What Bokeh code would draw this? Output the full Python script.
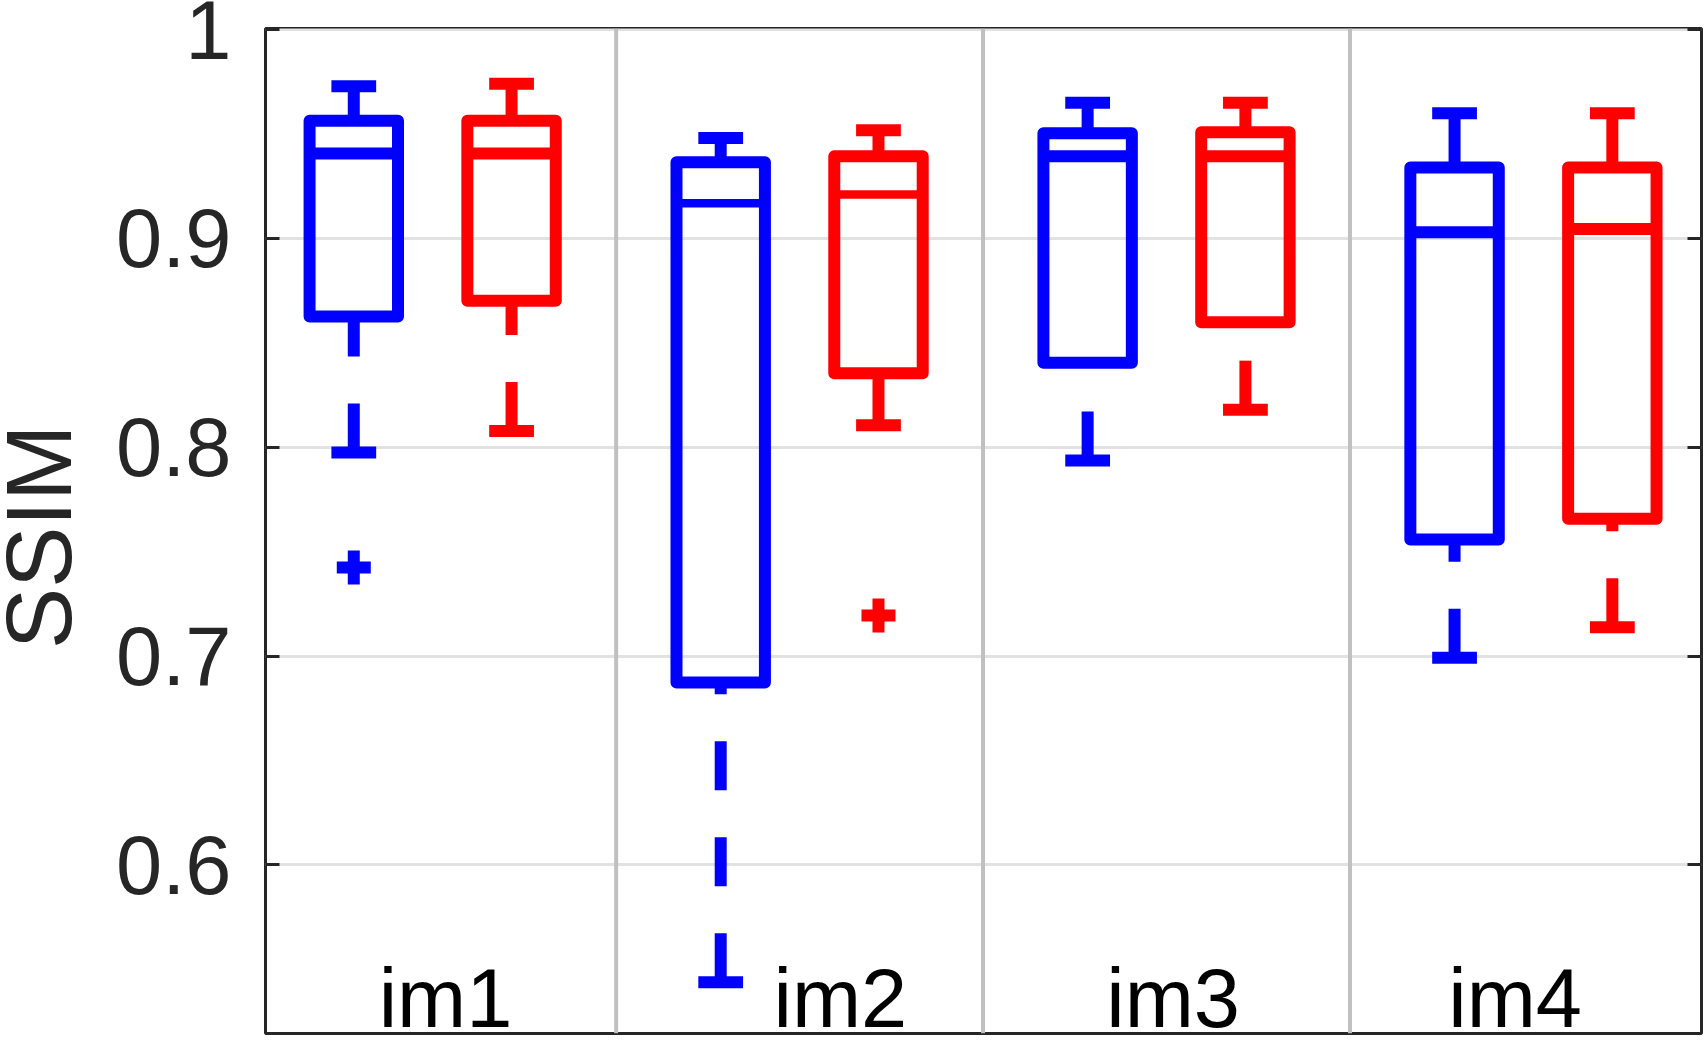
import math
import numpy as np
from bokeh.plotting import figure
from bokeh.layouts import row
from bokeh.models import FixedTicker, LinearAxis, Span, Range1d, ColumnDataSource
from bokeh.core.properties import value
from bokeh.embed import file_html
from bokeh.resources import INLINE

# ---------------- data ----------------
groups = ["im1", "im2", "im3", "im4"]

blue_upper = [0.9728, 0.9481, 0.9649, 0.9599]
blue_q3 = [0.9563, 0.9365, 0.9503, 0.9339]
blue_median = [0.9407, 0.9168, 0.9393, 0.9029]
blue_q1 = [0.8626, 0.6874, 0.8404, 0.7558]
blue_lower = [0.7975, 0.5438, 0.7936, 0.6992]
blue_outlier_group = ["im1"]
blue_outlier_value = [0.7424]

red_upper = [0.9740, 0.9518, 0.9649, 0.9599]
red_q3 = [0.9563, 0.9393, 0.9508, 0.9339]
red_median = [0.9407, 0.9210, 0.9393, 0.9045]
red_q1 = [0.8701, 0.8354, 0.8599, 0.7658]
red_lower = [0.8078, 0.8105, 0.8180, 0.7138]
red_outlier_group = ["im2"]
red_outlier_value = [0.7194]

y_ticks = [0.6, 0.7, 0.8, 0.9, 1.0]
y_tick_labels = ["0.6", "0.7", "0.8", "0.9", "1"]
y_label = "SSIM"

# ---------------- layout / style ----------------
TOTAL_W, TOTAL_H = 1708, 1040
LABEL_PANEL_W = 110
XLIM = (0.5444, 4.458)
YLIM = (0.5193, 1.0005)
OFFSET = 0.215        # half distance between the two boxes of a group
BOX_W = 0.241
CAP_W = 0.122
LW = 12
MEDIAN_LW = [12, 8.5, 12, 12]
LABEL_DX = [0.035, 0.111, 0.018, -0.050]
LABEL_Y = 0.5362
YLABEL_X, YLABEL_Y = 38.6, 514
DARK = "#262626"
FONT = "Liberation Sans"

# ---- narrow panel holding the y-axis title ----
lp = figure(width=LABEL_PANEL_W, height=TOTAL_H,
            x_range=Range1d(0, LABEL_PANEL_W), y_range=Range1d(0, TOTAL_H),
            output_backend="svg", toolbar_location=None,
            x_axis_location=None, y_axis_location=None,
            min_border=0, min_border_left=0, min_border_right=0,
            min_border_top=0, min_border_bottom=0,
            background_fill_color="white", border_fill_color="white")
lp.outline_line_color = None
lp.grid.visible = False
lp.text(x=[YLABEL_X], y=[YLABEL_Y], text=[y_label], angle=math.pi / 2,
        text_font=value(FONT), text_font_size="92px", text_align="center",
        text_baseline="middle", text_color=DARK)

# ---- main axes ----
p = figure(width=TOTAL_W - LABEL_PANEL_W, height=TOTAL_H,
           x_range=Range1d(*XLIM), y_range=Range1d(*YLIM),
           output_backend="svg", toolbar_location=None,
           x_axis_location=None,
           min_border_left=265 - LABEL_PANEL_W, min_border_right=7,
           min_border_top=28, min_border_bottom=7,
           background_fill_color="white", border_fill_color="white")

p.outline_line_color = DARK
p.outline_line_width = 3
p.outline_line_alpha = 1.0
p.xgrid.visible = False

# y axis (left)
yax = p.yaxis[0]
yax.ticker = FixedTicker(ticks=y_ticks)
yax.major_label_overrides = dict(zip(y_ticks, y_tick_labels))
yax.major_tick_in = 14
yax.major_tick_out = 0
yax.minor_tick_line_color = None
yax.axis_line_color = None
yax.major_tick_line_color = DARK
yax.major_tick_line_width = 3
yax.major_label_standoff = 34
yax.major_label_text_font = FONT
yax.major_label_text_font_size = "83px"
yax.major_label_text_color = DARK

# right axis: ticks only
rax = LinearAxis(ticker=FixedTicker(ticks=y_ticks),
                 major_label_overrides={t: "" for t in y_ticks},
                 major_tick_in=14, major_tick_out=0,
                 minor_tick_line_color=None, axis_line_color=None,
                 major_tick_line_color=DARK, major_tick_line_width=3,
                 major_label_standoff=0, major_label_text_font_size="1px")
p.add_layout(rax, "right")

# horizontal grid
p.ygrid.ticker = FixedTicker(ticks=y_ticks)
p.ygrid.grid_line_color = "#e2e2e2"
p.ygrid.grid_line_width = 3

gx = np.arange(1, len(groups) + 1, dtype=float)

# group separators
for b in (gx[:-1] + 0.5):
    p.add_layout(Span(location=float(b), dimension="height",
                      line_color="#c0c0c0", line_width=4, level="underlay"))

series = [
    ("#0000ff", -1, blue_upper, blue_q3, blue_median, blue_q1, blue_lower,
     blue_outlier_group, blue_outlier_value),
    ("#ff0000", +1, red_upper, red_q3, red_median, red_q1, red_lower,
     red_outlier_group, red_outlier_value),
]

for color, sign, up, q3, med, q1, lo, og, ov in series:
    xs = gx + sign * OFFSET
    src = ColumnDataSource(dict(
        x=xs, up=up, q3=q3, med=med, q1=q1, lo=lo,
        left=xs - BOX_W / 2, right=xs + BOX_W / 2,
        cl=xs - CAP_W / 2, cr=xs + CAP_W / 2, mlw=MEDIAN_LW))
    # whiskers (dashed, drawn from the whisker end towards the box)
    p.segment(x0="x", y0="up", x1="x", y1="q3", source=src, line_color=color,
              line_width=LW, line_dash="49 47", line_cap="butt")
    p.segment(x0="x", y0="lo", x1="x", y1="q1", source=src, line_color=color,
              line_width=LW, line_dash="49 47", line_cap="butt")
    # caps
    p.segment(x0="cl", y0="up", x1="cr", y1="up", source=src, line_color=color,
              line_width=LW, line_cap="butt")
    p.segment(x0="cl", y0="lo", x1="cr", y1="lo", source=src, line_color=color,
              line_width=LW, line_cap="butt")
    # boxes
    p.quad(left="left", right="right", bottom="q1", top="q3", source=src,
           fill_color=None, line_color=color, line_width=LW, line_join="round")
    # medians
    p.segment(x0="left", y0="med", x1="right", y1="med", source=src,
              line_color=color, line_width="mlw", line_cap="butt")
    # outliers
    ox = [gx[groups.index(g)] + sign * OFFSET for g in og]
    p.scatter(x=ox, y=ov, marker="cross", size=34, line_width=LW,
              line_color=color)

# group labels inside the axes
p.text(x=gx + np.array(LABEL_DX), y=[LABEL_Y] * len(groups), text=groups,
       text_font=value(FONT), text_font_size="83px", text_align="center",
       text_baseline="middle", text_color="black")

layout = row(lp, p, spacing=0)
open("out.html", "w").write(file_html(layout, INLINE))
